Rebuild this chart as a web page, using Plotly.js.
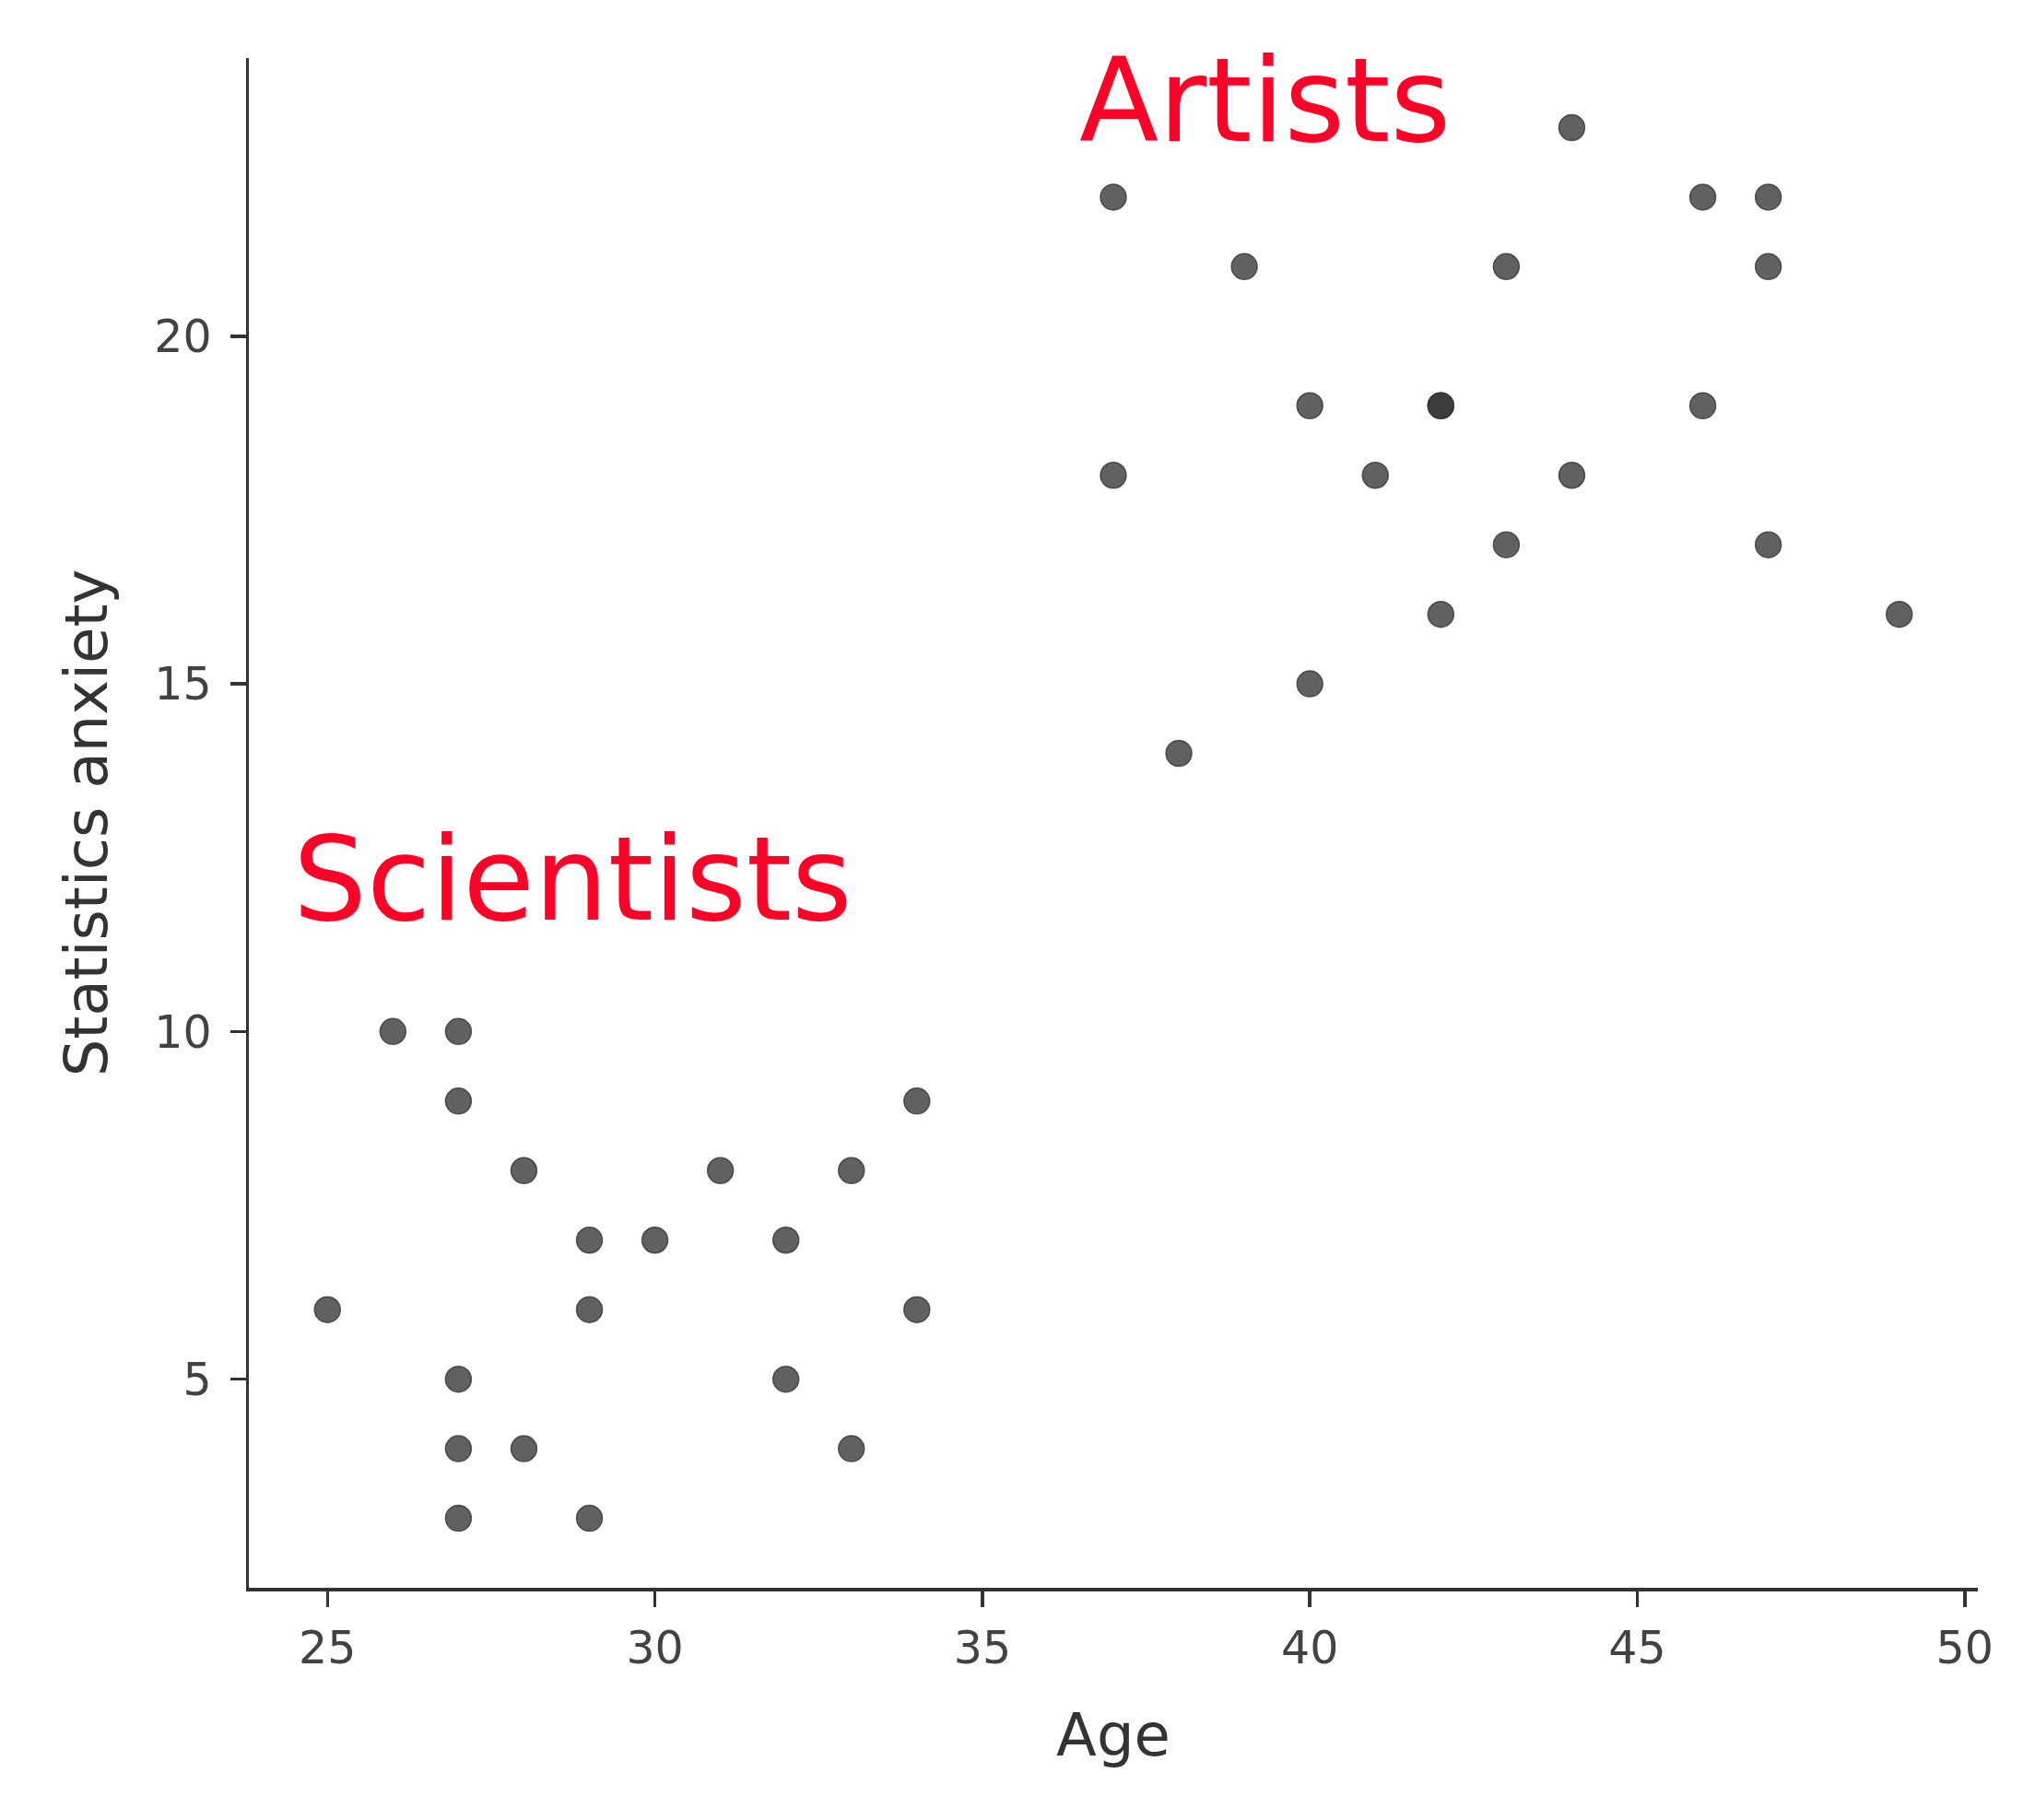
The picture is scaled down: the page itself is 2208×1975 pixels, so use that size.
<!DOCTYPE html>
<html>
<head>
<meta charset="utf-8">
<script src="https://cdn.plot.ly/plotly-3.0.1.min.js"></script>
<style>
  html, body { margin: 0; padding: 0; background: #fff; }
  #plot { width: 2208px; height: 1975px; }
</style>
</head>
<body>
<div id="plot"></div>
<script>
  // ages and anxiety scores
  var artistAge     = [37, 44, 46, 47, 39, 43, 47, 40, 42, 42, 46, 37, 41, 44, 43, 47, 42, 49, 40, 38];
  var artistAnxiety = [22, 23, 22, 22, 21, 21, 21, 19, 19, 19, 19, 18, 18, 18, 17, 17, 16, 16, 15, 14];

  var scientistAge     = [26, 27, 27, 34, 28, 31, 33, 29, 30, 32, 25, 29, 34, 27, 32, 27, 28, 33, 27, 29];
  var scientistAnxiety = [10, 10, 9, 9, 8, 8, 8, 7, 7, 7, 6, 6, 6, 5, 5, 4, 4, 4, 3, 3];

  var xTicks = [25, 30, 35, 40, 45, 50];
  var yTicks = [5, 10, 15, 20];

  var groupLabels = ['Artists', 'Scientists'];
  var labelX = [39.32, 28.75];
  var labelY = [23.39, 12.18];

  // semi-transparent points, so the duplicate (42, 19) shows darker
  var pointStyle = {
    size: 28,
    color: 'rgba(50,50,50,0.77)',
    line: { color: 'rgba(50,50,50,0.77)', width: 1.5 }
  };

  var data = [{
    type: 'scatter',
    mode: 'markers',
    x: artistAge.concat(scientistAge),
    y: artistAnxiety.concat(scientistAnxiety),
    marker: pointStyle,
    hoverinfo: 'x+y'
  }];

  var axisCommon = {
    showgrid: false,
    zeroline: false,
    showline: true,
    linecolor: '#333333',
    linewidth: 3.5,
    ticks: 'outside',
    ticklen: 17,
    tickwidth: 3.5,
    tickcolor: '#333333',
    tickfont: { family: 'DejaVu Sans', size: 49, color: '#424242' },
    automargin: false
  };

  var titleFont = { family: 'DejaVu Sans', size: 64, color: '#333333' };

  var layout = {
    width: 2208,
    height: 1975,
    margin: { l: 270, r: 62, t: 63, b: 252 },
    paper_bgcolor: '#ffffff',
    plot_bgcolor: '#ffffff',
    showlegend: false,
    xaxis: Object.assign({}, axisCommon, {
      range: [23.8, 50.2],
      tickvals: xTicks,
      ticklabelstandoff: 3,
      title: { text: 'Age', font: titleFont, standoff: 45 }
    }),
    yaxis: Object.assign({}, axisCommon, {
      range: [2, 24],
      tickvals: yTicks,
      ticklabelstandoff: 10,
      title: { text: 'Statistics anxiety', font: titleFont, standoff: 31 }
    }),
    annotations: groupLabels.map(function(label, i) {
      return {
        x: labelX[i],
        y: labelY[i],
        xref: 'x',
        yref: 'y',
        text: label,
        showarrow: false,
        xanchor: 'center',
        yanchor: 'middle',
        font: { family: 'DejaVu Sans', size: 126, color: '#ff0027' }
      };
    })
  };

  Plotly.newPlot('plot', data, layout, { displayModeBar: false, staticPlot: true });
</script>
</body>
</html>
